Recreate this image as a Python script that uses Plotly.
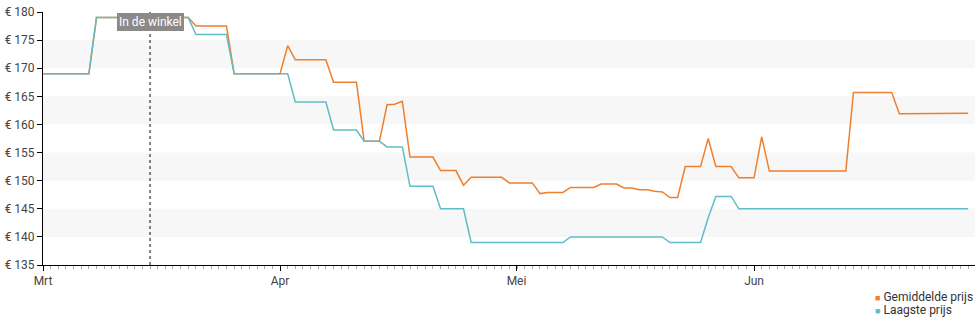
import pandas as pd
import plotly.graph_objects as go

# ---- data ----
start_date = "2024-03-01"
n_days = 122
dates = pd.date_range(start_date, periods=n_days, freq="D")

avg_name = "Gemiddelde prijs"
low_name = "Laagste prijs"

avg_price = [
    169, 169, 169, 169, 169, 169, 169,
    179, 179, 179, 179, 179, 179.5, 179, 179, 179, 179, 179, 179, 179,
    177.5, 177.5, 177.5, 177.5, 177.5,
    169, 169, 169, 169, 169, 169, 169,
    174,
    171.5, 171.5, 171.5, 171.5, 171.5,
    167.5, 167.5, 167.5, 167.5,
    157, 157, 157,
    163.5, 163.6, 164.1,
    154.2, 154.2, 154.2, 154.2,
    151.8, 151.8, 151.8,
    149.2,
    150.6, 150.6, 150.6, 150.6, 150.6,
    149.6, 149.6, 149.6, 149.6,
    147.7,
    147.9, 147.9, 147.9,
    148.8, 148.8, 148.8, 148.8,
    149.4, 149.4, 149.4,
    148.7, 148.7, 148.4, 148.4, 148.1, 148.0,
    147.0, 147.0,
    152.5, 152.5, 152.5,
    157.5,
    152.5, 152.5, 152.5,
    150.5, 150.5, 150.5,
    157.8,
    151.7, 151.7, 151.7, 151.7, 151.7, 151.7, 151.7, 151.7, 151.7, 151.7, 151.7,
    165.7, 165.7, 165.7, 165.7, 165.7, 165.7,
    161.9, 161.9, 161.9, 161.9, 161.9, 161.9,
    162.0, 162.0, 162.0, 162.0,
]

low_price = [
    169, 169, 169, 169, 169, 169, 169,
    179, 179, 179, 179, 179, 179, 179, 179, 179, 179, 179, 179, 179,
    176, 176, 176, 176, 176,
    169, 169, 169, 169, 169, 169, 169, 169,
    164, 164, 164, 164, 164,
    159, 159, 159, 159,
    157, 157, 157,
    156, 156, 156,
    149, 149, 149, 149,
    145, 145, 145, 145,
    139, 139, 139, 139, 139, 139, 139, 139, 139, 139, 139, 139, 139,
    140, 140, 140, 140, 140, 140, 140, 140, 140, 140, 140, 140, 140,
    139, 139, 139, 139, 139,
    143.4,
    147.2, 147.2, 147.2,
    145, 145, 145, 145, 145, 145, 145, 145, 145, 145, 145, 145, 145, 145, 145, 145,
    145, 145, 145, 145, 145, 145, 145, 145, 145, 145, 145, 145, 145, 145, 145,
]

tick_vals = ["2024-03-01", "2024-04-01", "2024-05-01 22:20", "2024-06-02"]
tick_text = ["Mrt", "Apr", "Mei", "Jun"]
x_range = ["2024-03-01", "2024-06-30 21:30"]
y_range = [135, 180]
store_date = "2024-03-15"
store_label = "In de winkel"
bands = [(140, 145), (150, 155), (160, 165), (170, 175)]

orange = "#ef7f2c"
teal = "#5fbdc6"
font_fam = "Roboto, 'Noto Sans', sans-serif"

fig = go.Figure()
fig.add_trace(go.Scatter(x=dates, y=avg_price, mode="lines", name=avg_name,
                         line=dict(color=orange, width=1.5), showlegend=False))
fig.add_trace(go.Scatter(x=dates, y=low_price, mode="lines", name=low_name,
                         line=dict(color=teal, width=1.5), showlegend=False))

for y0, y1 in bands:
    fig.add_shape(type="rect", xref="paper", x0=0, x1=1, yref="y", y0=y0, y1=y1,
                  fillcolor="#f7f7f7", line=dict(width=0), layer="below")

fig.add_shape(type="line", xref="x", x0=store_date, x1=store_date, yref="paper", y0=0, y1=1,
              line=dict(color="#333333", width=1.2, dash="dot"))
fig.add_annotation(x=store_date, y=178.2, xref="x", yref="y", text=store_label,
                   showarrow=False, bgcolor="#8a8a8a", bordercolor="#8a8a8a", borderpad=1,
                   font=dict(family=font_fam, size=12, color="white"))

legend_x = (873 - 40) / 935
for label, col, ypos in [(avg_name, orange, -0.126), (low_name, teal, -0.176)]:
    fig.add_annotation(xref="paper", yref="paper", x=legend_x, y=ypos,
                       xanchor="left", yanchor="middle", align="left",
                       text=f'<span style="color:{col};font-size:9px">■</span> {label}',
                       showarrow=False, font=dict(family=font_fam, size=12, color="#333333"))

fig.update_layout(
    width=980, height=325,
    margin=dict(l=40, r=5, t=10, b=60),
    plot_bgcolor="white", paper_bgcolor="white",
    font=dict(family=font_fam, size=12, color="#444444"),
    showlegend=False,
)
fig.update_xaxes(
    type="date", range=x_range,
    tickmode="array", tickvals=tick_vals, ticktext=tick_text,
    ticks="outside", ticklen=5, tickcolor="#000000",
    showline=True, linecolor="#000000", linewidth=1,
    showgrid=False, zeroline=False,
    tickfont=dict(size=12, color="#444444"),
    minor=dict(dtick=86400000, tick0="2024-03-01", ticks="outside", ticklen=3,
               tickcolor="#aaaaaa", showgrid=False),
)
fig.update_yaxes(
    range=y_range, dtick=5, tickprefix="€ ",
    ticks="outside", ticklen=5, tickcolor="#000000",
    showline=True, linecolor="#000000", linewidth=1,
    showgrid=False, zeroline=False,
    tickfont=dict(size=12, color="#444444"),
)

fig.write_html("out.html")
